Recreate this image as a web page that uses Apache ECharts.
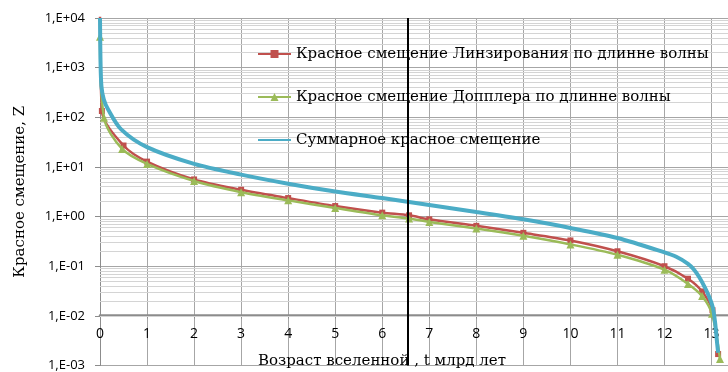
<!DOCTYPE html>
<html>
<head>
<meta charset="utf-8">
<script src="https://cdn.jsdelivr.net/npm/echarts@6/dist/echarts.min.js"></script>
<style>html,body{margin:0;padding:0;background:#fff;}#c{width:728px;height:372px;}</style>
</head>
<body>
<div id="c"></div>
<script>
// ---- data ----
var seriesNames = [
  'Красное смещение Линзирования по длинне волны',
  'Красное смещение Допплера по длинне волны',
  'Суммарное красное смещение'
];
var tRed = [0, 0.04, 0.5, 1, 2, 3, 4, 5, 6, 6.57, 7, 8, 9, 10, 11, 12, 12.5, 12.8, 13.02, 13.14];
var zRed = [20000, 134, 27, 12.8, 5.6, 3.47, 2.36, 1.63, 1.20, 1.06, 0.88, 0.65, 0.47, 0.33, 0.20, 0.10, 0.056, 0.031, 0.013, 0.0017];
var tGreen = [0, 0.085, 0.47, 1, 2, 3, 4, 5, 6, 6.57, 7, 8, 9, 10, 11, 12, 12.5, 12.8, 13.01, 13.18];
var zGreen = [4200, 98, 23, 11.5, 5.2, 3.1, 2.12, 1.49, 1.06, 0.91, 0.78, 0.575, 0.41, 0.275, 0.17, 0.085, 0.044, 0.025, 0.011, 0.00135];
var tBlue = [0, 0.01, 0.03, 0.08, 0.17, 0.45, 1, 2, 3, 4, 5, 6, 6.57, 8, 9, 10, 11, 12, 12.25, 12.5, 12.62, 12.74, 12.86, 12.96, 13.03, 13.08, 13.11, 13.14];
var zBlue = [10000, 1500, 424, 230, 145, 57, 25, 11.5, 7.0, 4.6, 3.2, 2.36, 1.97, 1.24, 0.88, 0.59, 0.37, 0.19, 0.155, 0.112, 0.087, 0.060, 0.037, 0.023, 0.0145, 0.0068, 0.0034, 0.0018];
var yTickLabels = ['1,E-03', '1,E-02', '1,E-01', '1,E+00', '1,E+01', '1,E+02', '1,E+03', '1,E+04'];
var xTickLabels = ['0','1','2','3','4','5','6','7','8','9','10','11','12','13'];
var markerAge = 6.55;
var yTitle = 'Красное смещение, Z';
var xTitle = 'Возраст вселенной , t млрд лет';

function zip(a, b) { return a.map(function (v, i) { return [v, b[i]]; }); }

// minor log gridlines (2..9 in each decade)
var minorLines = [];
for (var e = -3; e < 4; e++) {
  for (var k = 2; k <= 9; k++) minorLines.push({ yAxis: k * Math.pow(10, e) });
}

var serif = '"DejaVu Serif", serif';
var chart = echarts.init(document.getElementById('c'), null, { renderer: 'canvas' });
chart.setOption({
  animation: false,
  backgroundColor: '#fff',
  grid: { left: 100, right: 0, top: 18, bottom: 4, containLabel: false },
  legend: {
    data: [
      { name: seriesNames[0] },
      { name: seriesNames[1] },
      { name: seriesNames[2], itemStyle: { opacity: 0 } }
    ],
    orient: 'vertical',
    left: 257, top: 46, padding: 0,
    itemWidth: 33, itemHeight: 10, itemGap: 27,
    textStyle: { fontFamily: serif, fontSize: 15, color: '#000', lineHeight: 16 }
  },
  xAxis: {
    type: 'value', min: 0, max: 13.35, interval: 1,
    position: 'bottom', offset: -50,
    axisLine: { show: true, lineStyle: { color: '#8c8c8c', width: 2.5 } },
    axisTick: { show: true, length: 3, lineStyle: { color: '#8c8c8c' } },
    axisLabel: {
      margin: 12, fontFamily: '"Open Sans", sans-serif', fontSize: 14, color: '#000',
      showMaxLabel: false,
      formatter: function (v) { return Math.abs(v - Math.round(v)) < 1e-6 ? (xTickLabels[Math.round(v)] || '') : ''; }
    },
    splitLine: { show: true, lineStyle: { color: '#a6a6a6', width: 1 } }
  },
  yAxis: {
    type: 'log', logBase: 10, min: 0.001, max: 10000,
    name: yTitle, nameLocation: 'middle', nameGap: 72,
    nameTextStyle: { fontFamily: serif, fontSize: 15, color: '#000' },
    axisLine: { show: true, lineStyle: { color: '#8c8c8c', width: 1 } },
    axisTick: { show: true, length: 5, lineStyle: { color: '#8c8c8c' } },
    axisLabel: {
      margin: 15, fontFamily: '"Open Sans", sans-serif', fontSize: 13, color: '#000',
      formatter: function (v) { return yTickLabels[Math.round(Math.log10(v)) + 3] || ''; }
    },
    splitLine: { show: true, lineStyle: { color: '#a6a6a6', width: 1 } }
  },
  graphic: [{
    type: 'text', left: 258, top: 354, z: 10,
    style: { text: xTitle, font: '15px ' + serif, fill: '#000' }
  }],
  series: [
    {
      type: 'line', data: [], silent: true, z: 1,
      markLine: {
        silent: true, symbol: 'none', z: 1, animation: false,
        label: { show: false },
        lineStyle: { color: '#d4d4d4', width: 1, type: 'solid' },
        data: minorLines
      }
    },
    {
      name: seriesNames[0], type: 'line', data: zip(tRed, zRed), z: 3,
      smooth: 0.3, symbol: 'rect', symbolSize: 6, showAllSymbol: true,
      lineStyle: { color: '#C0504D', width: 2.5 },
      itemStyle: { color: '#C0504D' }
    },
    {
      name: seriesNames[1], type: 'line', data: zip(tGreen, zGreen), z: 4,
      smooth: 0.3, symbol: 'triangle', symbolSize: 8, showAllSymbol: true,
      lineStyle: { color: '#9BBB59', width: 2.5 },
      itemStyle: { color: '#9BBB59' }
    },
    {
      name: seriesNames[2], type: 'line', data: zip(tBlue, zBlue), z: 5,
      smooth: 0.3, symbol: 'none',
      lineStyle: { color: '#4BACC6', width: 4 },
      itemStyle: { color: '#4BACC6' },
      markLine: {
        silent: true, symbol: 'none', z: 6,
        label: { show: false },
        lineStyle: { color: '#000', width: 2, type: 'solid' },
        data: [{ xAxis: markerAge }]
      }
    }
  ]
});
</script>
</body>
</html>
